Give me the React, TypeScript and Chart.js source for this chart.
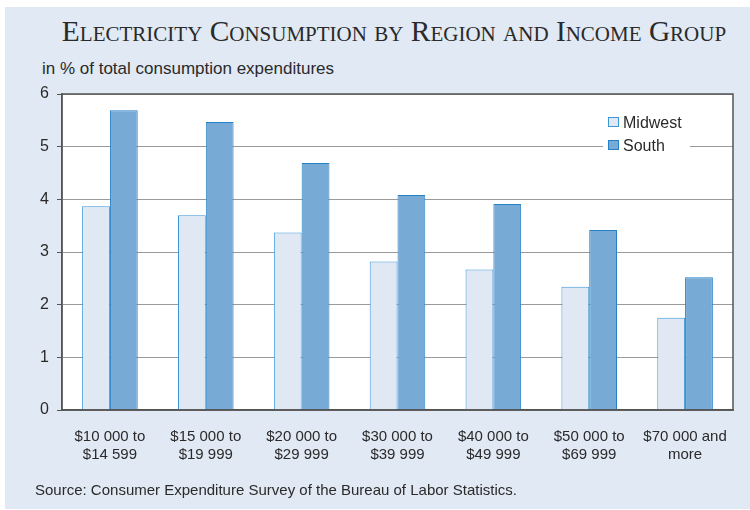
import React, { useEffect, useRef } from "react";
import { Chart, registerables } from "chart.js";

Chart.register(...registerables);

const categories: string[][] = [
  ["$10 000 to", "$14 599"],
  ["$15 000 to", "$19 999"],
  ["$20 000 to", "$29 999"],
  ["$30 000 to", "$39 999"],
  ["$40 000 to", "$49 999"],
  ["$50 000 to", "$69 999"],
  ["$70 000 and", "more"],
];
const midwest = [3.87, 3.7, 3.37, 2.82, 2.67, 2.34, 1.75];
const south = [5.69, 5.47, 4.69, 4.08, 3.91, 3.42, 2.52];
const seriesNames = ["Midwest", "South"];

const MW_FILL = "#e0e8f4";
const MW_BORDER = "#3d96d8";
const S_FILL = "#78aad6";
const S_BORDER = "#2580c6";
const FONT = "'Liberation Sans', Arial, sans-serif";

export default function App() {
  const ref = useRef<HTMLCanvasElement>(null);
  useEffect(() => {
    const plotBg = {
      id: "plotBg",
      beforeDraw(chart: any) {
        const { ctx, chartArea: a } = chart;
        ctx.save();
        ctx.fillStyle = "#ffffff";
        ctx.fillRect(a.left, a.top, a.right - a.left, a.bottom - a.top);
        ctx.restore();
      },
      afterDraw(chart: any) {
        const { ctx, chartArea: a } = chart;
        ctx.save();
        ctx.strokeStyle = "#555555";
        ctx.lineWidth = 1.5;
        ctx.strokeRect(a.left, a.top, a.right - a.left, a.bottom - a.top);
        // legend
        const lx = a.right - 125;
        const ly = a.top + 23;
        ctx.fillStyle = "#ffffff";
        ctx.fillRect(lx - 5, ly - 6, 87, 42);
        const fills = [MW_FILL, S_FILL];
        const borders = [MW_BORDER, S_BORDER];
        ctx.font = `16px ${FONT}`;
        ctx.textBaseline = "middle";
        seriesNames.forEach((n, i) => {
          const y = ly + i * 23;
          ctx.fillStyle = fills[i];
          ctx.fillRect(lx, y, 11, 10);
          ctx.strokeStyle = borders[i];
          ctx.lineWidth = 1;
          ctx.strokeRect(lx + 0.5, y + 0.5, 10, 9);
          ctx.fillStyle = "#2a2a2a";
          ctx.fillText(n, lx + 15, y + 7);
        });
        ctx.restore();
      },
    };
    const chart = new Chart(ref.current!, {
      type: "bar",
      data: {
        labels: categories,
        datasets: [
          {
            label: seriesNames[0],
            data: midwest,
            backgroundColor: MW_FILL,
            borderColor: MW_BORDER,
            borderWidth: 1,
            barPercentage: 1,
            categoryPercentage: 0.58,
          },
          {
            label: seriesNames[1],
            data: south,
            backgroundColor: S_FILL,
            borderColor: S_BORDER,
            borderWidth: 1,
            barPercentage: 1,
            categoryPercentage: 0.58,
          },
        ],
      },
      options: {
        animation: false,
        responsive: false,
        maintainAspectRatio: false,
        layout: { padding: { left: 0, top: 94, right: 17, bottom: 0 } },
        plugins: { legend: { display: false }, tooltip: { enabled: false } },
        scales: {
          x: {
            grid: { display: false },
            border: { display: true, color: "#555555", width: 1.5 },
            ticks: {
              color: "#2a2a2a",
              font: { family: FONT, size: 15 },
              padding: 10,
              maxRotation: 0,
              autoSkip: false,
            },
            afterFit(scale: any) {
              scale.height = 100;
            },
          },
          y: {
            min: 0,
            max: 6,
            ticks: {
              stepSize: 1,
              color: "#2a2a2a",
              font: { family: FONT, size: 16 },
              padding: 8,
            },
            grid: {
              color: "#9a9a9a",
              lineWidth: 1,
              tickColor: "#555555",
              tickLength: 5,
            },
            border: { display: true, color: "#555555", width: 1.5 },
            afterFit(scale: any) {
              scale.width = 62;
            },
          },
        },
      },
      plugins: [plotBg],
    });
    return () => chart.destroy();
  }, []);

  return (
    <div style={{ position: "fixed", left: 0, top: 0, width: 750, height: 510, background: "#ffffff" }}>
      <div style={{ position: "absolute", left: 5, top: 7, width: 745, height: 502, background: "#e1e9f4" }} />
      <div
        style={{
          position: "absolute",
          left: 0,
          width: 788,
          top: 15,
          textAlign: "center",
          fontFamily: "'Liberation Serif', 'Times New Roman', serif",
          fontVariant: "small-caps",
          fontSize: 29.4,
          color: "#2a2a2a",
          whiteSpace: "nowrap",
        }}
      >
        Electricity Consumption by Region and Income Group
      </div>
      <div
        style={{
          position: "absolute",
          left: 42,
          top: 59,
          fontFamily: FONT,
          fontSize: 17,
          color: "#2a2a2a",
          whiteSpace: "nowrap",
        }}
      >
        in % of total consumption expenditures
      </div>
      <canvas ref={ref} width={750} height={510} style={{ position: "absolute", left: 0, top: 0 }} />
      <div
        style={{
          position: "absolute",
          left: 35,
          top: 481,
          fontFamily: FONT,
          fontSize: 15,
          color: "#2a2a2a",
          whiteSpace: "nowrap",
        }}
      >
        Source: Consumer Expenditure Survey of the Bureau of Labor Statistics.
      </div>
    </div>
  );
}
